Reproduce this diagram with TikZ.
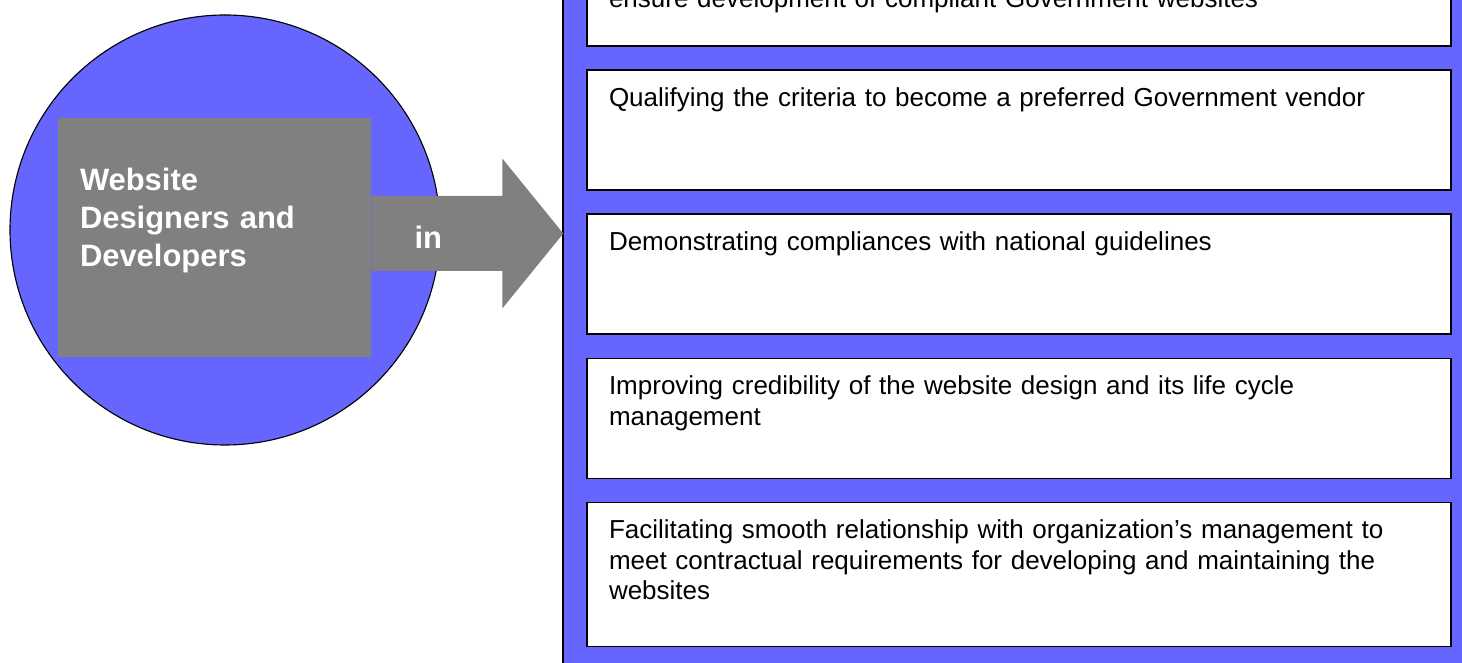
\documentclass[tikz,border=0pt]{standalone}
\usepackage{fontspec}
\setmainfont{Liberation Sans}
\usetikzlibrary{positioning}
\definecolor{panelblue}{HTML}{6666FF}
\definecolor{devgray}{HTML}{808080}
\tikzset{
    itembox/.style={draw, fill=white, line width=1pt, text width=20.5cm, align=left,
        inner xsep=0.55cm, inner ysep=0pt, text height=0.9cm, text depth=2.1cm,
        font=\fontsize{18.5}{21.9}\selectfont},
    devbox/.style={fill=devgray, text=white, text width=6.725cm, align=left,
        inner xsep=0.55cm, inner ysep=0pt, text height=1.825cm, text depth=4.15cm,
        font=\bfseries\fontsize{22}{26.7}\selectfont},
}

\begin{document}
\begin{tikzpicture}
    \useasboundingbox (0,0) rectangle (36.55,16.575);
    \clip (0,0) rectangle (36.55,16.575);

    % right panel
    \draw[fill=panelblue, line width=1pt] (14.075,-1) rectangle (38,18);

    % left side
    \draw[fill=panelblue, line width=0.8pt] (5.625,10.825) circle (5.375);
    \node[devbox] (dev) at (5.3625,10.6375) {Website\\Designers and\\Developers};
    \coordinate (tail) at ([yshift=0.1cm]dev.east);
    \fill[devgray] ([yshift=0.9375cm]tail) -- ++(3.275,0) -- ++(0,0.9375) -- ++(1.525,-1.875)
        -- ++(-1.525,-1.875) -- ++(0,0.9375) -- ++(-3.275,0) -- cycle;
    \node[text=white, font=\bfseries\fontsize{22}{26.7}\selectfont] (in) at ([xshift=1.425cm]dev.east) {in};

    % boxes
    \node[itembox, text height=2.05cm, text depth=0.95cm] (b1) at (25.475,16.925)
        {ensure development of compliant Government websites};
    \node[itembox, below=0.567cm of b1] (b2) {Qualifying the criteria to become a preferred Government vendor};
    \node[itembox, below=0.567cm of b2] (b3) {Demonstrating compliances with national guidelines};
    \node[itembox, below=0.567cm of b3] (b4) {Improving credibility of the website design and its life cycle\\management};
    \node[itembox, text depth=2.7cm, below=0.567cm of b4] (b5) {Facilitating smooth relationship with organization’s management to\\meet contractual requirements for developing and maintaining the\\websites};
\end{tikzpicture}
\end{document}
